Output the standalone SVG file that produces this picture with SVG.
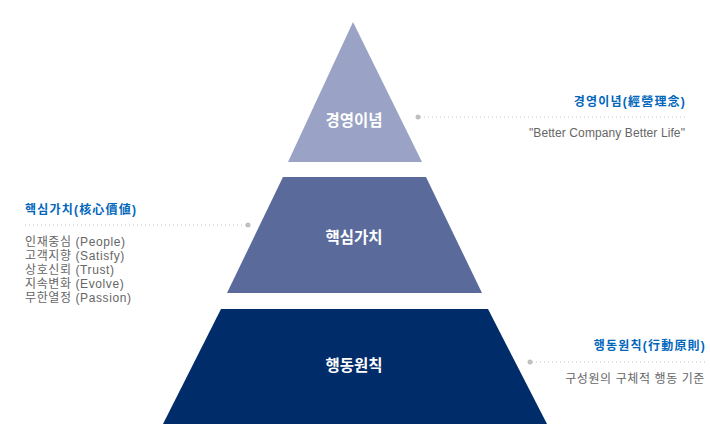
<svg xmlns="http://www.w3.org/2000/svg" width="710" height="445" viewBox="0 0 710 445">
<style>
.lvl{font-family:"Noto Sans CJK KR","Noto Sans",sans-serif;font-size:15.5px;font-weight:bold;fill:#ffffff;text-anchor:middle}
.ttl{font-family:"Liberation Sans","Noto Sans CJK KR",sans-serif;font-size:12px;font-weight:bold;fill:#0066bb;letter-spacing:1.2px}
.txt{font-family:"Liberation Sans","Noto Sans CJK KR",sans-serif;font-size:12px;fill:#666666;letter-spacing:0.6px}
.lead{stroke:#c0c0c0;stroke-width:1;stroke-dasharray:1 3;fill:none}
.dot{fill:#c0c0c0}
</style>
<rect width="710" height="445" fill="#ffffff"/>
<g id="level1">
<polygon points="353,22 422,162 288,162" fill="#9aa3c5"/>
<text class="lvl" x="354" y="126">경영이념</text>
</g>
<g id="level2">
<polygon points="283,177 426,177 482,293 227,293" fill="#5a6b9b"/>
<text class="lvl" x="354" y="243">핵심가치</text>
</g>
<g id="level3">
<polygon points="221,309 488,309 547,424 163,424" fill="#002c69"/>
<text class="lvl" x="354" y="371">행동원칙</text>
</g>
<g id="connectors">
<line class="lead" x1="420" y1="117" x2="686" y2="117"/>
<circle class="dot" cx="418" cy="117" r="2.5"/>
<line class="lead" x1="25" y1="225" x2="246" y2="225"/>
<circle class="dot" cx="248" cy="225" r="2.5"/>
<line class="lead" x1="532" y1="362" x2="705" y2="362"/>
<circle class="dot" cx="530" cy="362" r="2.5"/>
</g>
<g id="label1">
<text class="ttl" x="686" y="106" text-anchor="end">경영이념(經營理念)</text>
<text class="txt" x="685" y="137" text-anchor="end" style="letter-spacing:0.1px">"Better Company Better Life"</text>
</g>
<g id="label2">
<text class="ttl" x="25" y="214">핵심가치(核心價値)</text>
<text class="txt" x="25" y="246">인재중심 (People)</text>
<text class="txt" x="25" y="260">고객지향 (Satisfy)</text>
<text class="txt" x="25" y="274">상호신뢰 (Trust)</text>
<text class="txt" x="25" y="288">지속변화 (Evolve)</text>
<text class="txt" x="25" y="302">무한열정 (Passion)</text>
</g>
<g id="label3">
<text class="ttl" x="706" y="350" text-anchor="end">행동원칙(行動原則)</text>
<text class="txt" x="705" y="383" text-anchor="end">구성원의 구체적 행동 기준</text>
</g>
</svg>
